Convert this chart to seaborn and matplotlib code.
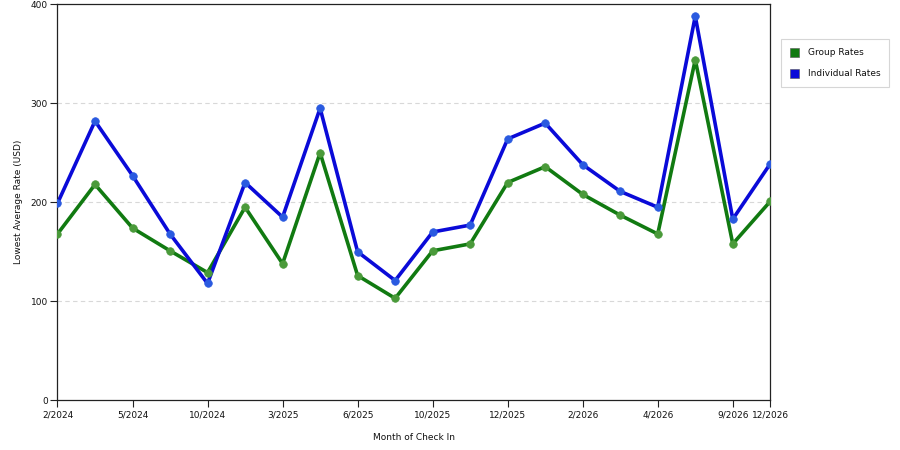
import matplotlib
matplotlib.use("Agg")
import matplotlib.pyplot as plt
import seaborn as sns
import pandas as pd
from matplotlib.patches import Patch

tick_labels = ["2/2024", "5/2024", "10/2024", "3/2025", "6/2025", "10/2025",
               "12/2025", "2/2026", "4/2026", "9/2026", "12/2026"]
tick_index = [0, 2, 4, 6, 8, 10, 12, 14, 16, 18, 19]

group_rates = [168, 218, 174, 151, 129, 195, 138, 250, 126, 103,
               151, 158, 220, 236, 208, 187, 168, 344, 158, 201]
individual_rates = [199, 282, 227, 168, 118, 220, 185, 295, 150, 121,
                    170, 177, 264, 280, 238, 211, 195, 388, 183, 239]

series_names = ["Group Rates", "Individual Rates"]
line_colors = ["#117a11", "#0a0ad8"]
marker_colors = ["#4a9a3a", "#2a5ae0"]

n = len(group_rates)
df = pd.DataFrame({
    "idx": list(range(n)) * 2,
    "rate": group_rates + individual_rates,
    "series": [series_names[0]] * n + [series_names[1]] * n,
})

sns.set_style("white")
plt.rcParams["font.family"] = ["DejaVu Sans"]
plt.rcParams["text.color"] = "#111111"
plt.rcParams["axes.labelcolor"] = "#111111"

fig = plt.figure(figsize=(9, 4.5), dpi=100)
ax = fig.add_axes([57.5 / 900, 1 - 400.3 / 450, (770.3 - 57.5) / 900, (400.3 - 4.3) / 450])

for y in [100, 200, 300]:
    ax.axhline(y, color="#d8d8d8", lw=0.8, ls=(0, (4, 3)), zorder=0)

sns.lineplot(data=df, x="idx", y="rate", hue="series", palette=line_colors,
             hue_order=series_names, lw=2.6, ax=ax, legend=False, zorder=2)
for name, mc in zip(series_names, marker_colors):
    sub = df[df["series"] == name]
    sns.scatterplot(data=sub, x="idx", y="rate", color=mc, s=30, edgecolor=mc,
                    linewidth=0.5, ax=ax, legend=False, zorder=3)

ax.set_xlim(0, n - 1)
ax.set_ylim(0, 400)
ax.set_yticks([0, 100, 200, 300, 400])
ax.set_xticks(tick_index)
ax.set_xticklabels(tick_labels)
ax.tick_params(axis="both", labelsize=6.5, length=5, width=0.8, color="#222222",
               labelcolor="#111111", direction="out", pad=2)
ax.tick_params(axis="x", bottom=True)
ax.tick_params(axis="y", left=True)
for s in ax.spines.values():
    s.set_color("#222222")
    s.set_linewidth(0.9)

ax.set_xlabel("Month of Check In", fontsize=6.5)
ax.set_ylabel("Lowest Average Rate (USD)", fontsize=6.5)
ax.xaxis.set_label_coords(0.5, -0.082)
ax.yaxis.set_label_coords(-0.049, 0.5)

handles = [Patch(facecolor=c, edgecolor="#555555", linewidth=0.4) for c in line_colors]
leg = fig.legend(handles, series_names, loc="upper left",
                 bbox_to_anchor=(776 / 900, 1 - 34 / 450), fontsize=6.5,
                 frameon=True, fancybox=False, edgecolor="#cccccc",
                 handlelength=1.1, handleheight=1.2, borderpad=1.0, labelspacing=1.25,
                 handletextpad=0.9)
leg.get_frame().set_linewidth(0.8)

fig.savefig("out.png", dpi=100)
